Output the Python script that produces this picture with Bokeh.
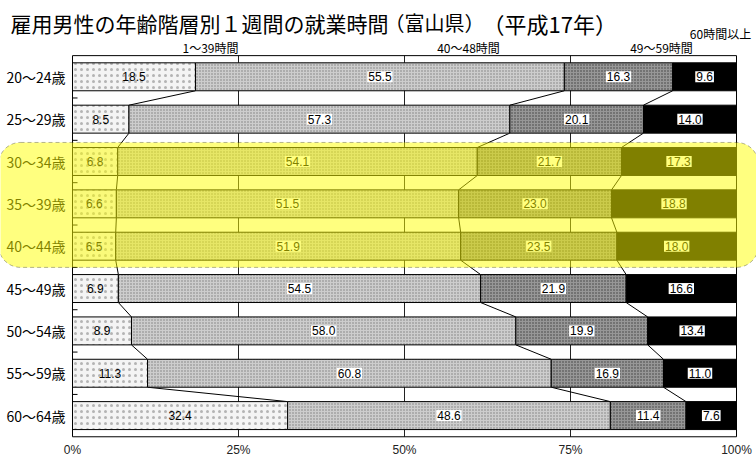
import numpy as np
from bokeh.plotting import figure
from bokeh.models import Range1d, BoxAnnotation
from bokeh.core.properties import value
from bokeh.embed import file_html
from bokeh.resources import INLINE

# --- data -----------------------------------------------------------------
ages = ["20～24歳", "25～29歳", "30～34歳", "35～39歳", "40～44歳",
        "45～49歳", "50～54歳", "55～59歳", "60～64歳"]
hours_1_39 = [18.5, 8.5, 6.8, 6.6, 6.5, 6.9, 8.9, 11.3, 32.4]
hours_40_48 = [55.5, 57.3, 54.1, 51.5, 51.9, 54.5, 58.0, 60.8, 48.6]
hours_49_59 = [16.3, 20.1, 21.7, 23.0, 23.5, 21.9, 19.9, 16.9, 11.4]
hours_60_plus = [9.6, 14.0, 17.3, 18.8, 18.0, 16.6, 13.4, 11.0, 7.6]
series_names = ["1～39時間", "40～48時間", "49～59時間", "60時間以上"]
pct_ticks = [0, 25, 50, 75, 100]
pct_labels = ["0%", "25%", "50%", "75%", "100%"]
highlight = ("30～34歳", "40～44歳")

title_main = "雇用男性の年齢階層別１週間の就業時間"
title_pref = "（富山県）"
title_year = "（平成17年）"

# --- layout helpers (pixel -> data) ----------------------------------------
W, H = 756, 457
X0PX, X100PX = 72, 736
ROW0PX, ROWPX = 76.3, 42.35


def sx(px):
    return (px - X0PX) / (X100PX - X0PX) * 100.0


def sy(py):
    return (py - ROW0PX) / ROWPX


JP = value("Noto Sans CJK JP")
NUM = value("Liberation Sans")

p = figure(width=W, height=H, x_range=Range1d(sx(0), sx(W)),
           y_range=Range1d(sy(H), sy(0)), min_border=0,
           toolbar_location=None, output_backend="svg")
p.axis.visible = False
p.grid.visible = False
p.outline_line_color = None
p.background_fill_color = "white"

rows = np.arange(len(ages))
vals = np.array([hours_1_39, hours_40_48, hours_49_59, hours_60_plus]).T
totals = vals.sum(axis=1, keepdims=True)
right = np.cumsum(vals, axis=1) / totals * 100.0
left = np.hstack([np.zeros((len(ages), 1)), right[:, :-1]])
BAR_H = 0.66

# vertical grid lines
p.segment(x0=pct_ticks[1:-1], x1=pct_ticks[1:-1], y0=-0.5, y1=len(ages) - 0.5,
          line_color="#222222", line_width=1)

# series lines joining the segment boundaries of adjacent bars
for j in range(3):
    p.segment(x0=right[:-1, j], y0=rows[:-1] + BAR_H / 2,
              x1=right[1:, j], y1=rows[1:] - BAR_H / 2,
              line_color="black", line_width=1)

styles = [
    dict(fill_color="#f4f4f4", hatch_pattern="dot", hatch_scale=6,
         hatch_color="#b4b4b4", hatch_weight=1),
    dict(fill_color="#cdcdcd", hatch_pattern="dot", hatch_scale=3,
         hatch_color="#7c7c7c", hatch_weight=1),
    dict(fill_color="#979797", hatch_pattern="dot", hatch_scale=3,
         hatch_color="#3c3c3c", hatch_weight=1),
    dict(fill_color="black"),
]
for j, st in enumerate(styles):
    p.hbar(y=rows, left=left[:, j], right=right[:, j], height=BAR_H,
           line_color="black", line_width=1, **st)

# value labels
for j in range(4):
    mid = (left[:, j] + right[:, j]) / 2
    txt = [f"{v:.1f}" for v in vals[:, j]]
    kw = dict(background_fill_color="white", padding=1) if j > 0 else {}
    p.text(x=mid, y=rows, text=txt, text_align="center", text_baseline="middle",
           text_font=NUM, text_font_size="12px", text_color="black", **kw)

# plot frame and inward tick marks
p.quad(left=0, right=100, top=-0.5, bottom=len(ages) - 0.5,
       fill_color=None, line_color="black", line_width=1)
bounds = rows[:-1] + 0.5
p.segment(x0=0, x1=sx(77), y0=bounds, y1=bounds, line_color="black", line_width=1)

# category labels
p.text(x=sx(65), y=rows, text=ages, text_align="right", text_baseline="middle",
       text_font=JP, text_font_size="14px", text_color="black")

# percentage labels along the bottom
p.text(x=pct_ticks, y=sy(456), text=pct_labels, text_align="center",
       text_baseline="bottom", text_font=NUM, text_font_size="12px",
       text_color="#222222")

# series names above the bars
p.text(x=[sx(210), sx(468), sx(661), sx(720)],
       y=[sy(47), sy(47), sy(47), sy(33)], text=series_names,
       text_align="center", text_baseline="middle", text_font=JP,
       text_font_size="12px", text_color="black")

# title
p.text(x=[sx(10)], y=[sy(22)], text=[title_main], text_align="left",
       text_baseline="middle", text_font=JP, text_font_size="21px",
       text_color="black")
p.text(x=[sx(384)], y=[sy(22)], text=[title_pref], text_align="left",
       text_baseline="middle", text_font=JP, text_font_size="20px",
       text_color="black")
p.text(x=[sx(482)], y=[sy(22)], text=[title_year], text_align="left",
       text_baseline="middle", text_font=JP, text_font_size="22px",
       text_color="black")

# highlighted band for the 30-44 age groups
i0, i1 = ages.index(highlight[0]), ages.index(highlight[1])
band = BoxAnnotation(left=sx(-2), right=sx(758), top=i0 - 0.45, bottom=i1 + 0.5,
                     fill_color="#ffff00", fill_alpha=0.5, line_color="black",
                     line_dash="4 3", line_width=1, border_radius=22)
p.add_layout(band)

open("out.html", "w").write(file_html(p, INLINE))
